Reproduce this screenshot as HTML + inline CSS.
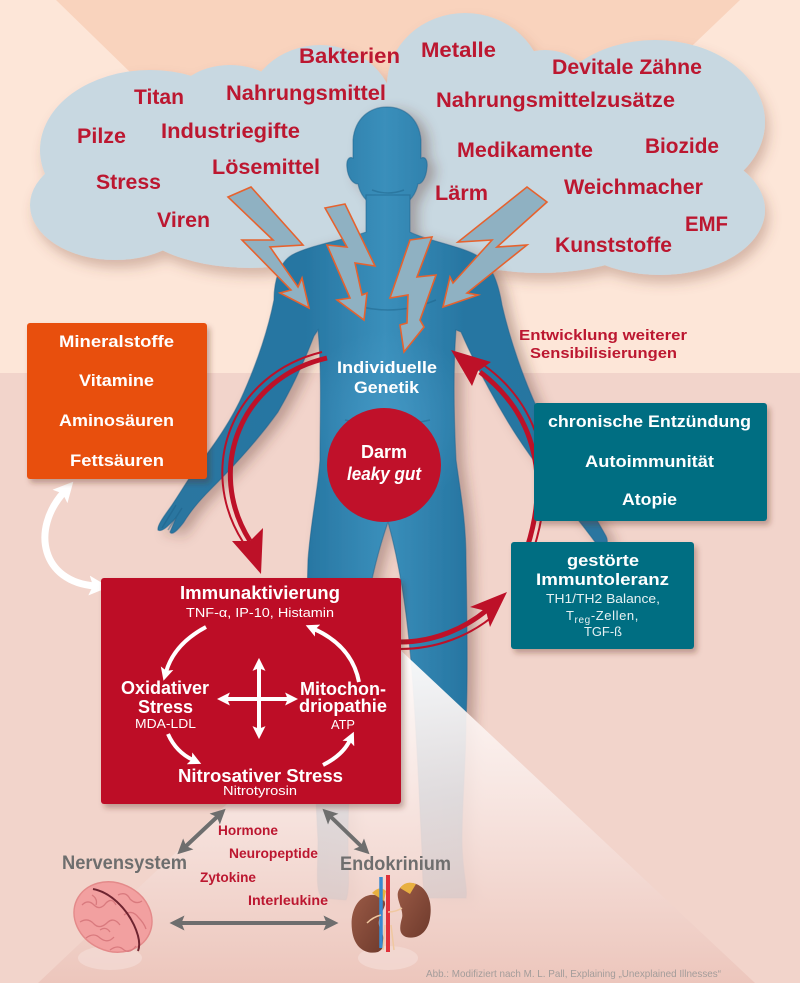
<!DOCTYPE html>
<html><head><meta charset="utf-8">
<style>html,body{margin:0;padding:0;background:#fde6d8;}svg{display:block}</style>
</head><body>
<svg width="800" height="983" viewBox="0 0 800 983" xmlns="http://www.w3.org/2000/svg" font-family="'Liberation Sans', sans-serif">
<defs>
<style>
.cw{font-weight:bold;fill:#bc1730;font-size:21px}
.wb{font-weight:bold;fill:#fff;font-size:17px}
.wn{fill:#fff;font-size:13px}
.sr{font-weight:bold;fill:#bc1730;font-size:13.5px}
.gy{font-weight:bold;fill:#6e6e6e;font-size:19.5px}
</style>
<linearGradient id="bodyg" gradientUnits="userSpaceOnUse" x1="150" y1="0" x2="620" y2="0">
<stop offset="0" stop-color="#2a76a0"/><stop offset="0.33" stop-color="#2776a2"/><stop offset="0.5" stop-color="#3a8fbb"/><stop offset="0.67" stop-color="#2776a2"/><stop offset="1" stop-color="#2a76a0"/>
</linearGradient>
<radialGradient id="torsog" gradientUnits="userSpaceOnUse" cx="388" cy="420" r="90">
<stop offset="0" stop-color="#4a9ecb" stop-opacity="0.55"/><stop offset="1" stop-color="#4a9ecb" stop-opacity="0"/>
</radialGradient>
<linearGradient id="coneg" gradientUnits="userSpaceOnUse" x1="0" y1="645" x2="0" y2="983">
<stop offset="0" stop-color="#ffffff" stop-opacity="0.96"/><stop offset="0.45" stop-color="#f8e8e4" stop-opacity="0.88"/><stop offset="1" stop-color="#ecc5bb" stop-opacity="0.92"/>
</linearGradient>
<linearGradient id="kid" x1="0" y1="0" x2="1" y2="1"><stop offset="0" stop-color="#9a5a46"/><stop offset="1" stop-color="#6e3a2c"/></linearGradient>
<filter id="sh" x="-20%" y="-20%" width="140%" height="140%"><feDropShadow dx="3" dy="4" stdDeviation="3" flood-color="#5a2a20" flood-opacity="0.35"/></filter>
<filter id="csh" x="-10%" y="-10%" width="120%" height="130%"><feDropShadow dx="4" dy="8" stdDeviation="6" flood-color="#7a4a3a" flood-opacity="0.3"/></filter>
<filter id="bsh" x="-20%" y="-10%" width="140%" height="130%"><feDropShadow dx="8" dy="4" stdDeviation="6" flood-color="#5a3028" flood-opacity="0.35"/></filter>
<marker id="mg" viewBox="0 0 10 10" refX="3" refY="5" markerWidth="15" markerHeight="15" markerUnits="userSpaceOnUse" orient="auto-start-reverse"><path d="M0,0 L10,5 L0,10 L2,5z" fill="#6e6e6e"/></marker>
<marker id="mw" viewBox="0 0 10 10" refX="3" refY="5" markerWidth="13" markerHeight="13" markerUnits="userSpaceOnUse" orient="auto-start-reverse"><path d="M0,0 L10,5 L0,10 L2,5z" fill="#fff"/></marker>
<marker id="mw2" viewBox="0 0 10 10" refX="3" refY="5" markerWidth="20" markerHeight="20" markerUnits="userSpaceOnUse" orient="auto-start-reverse"><path d="M0,0 L10,5 L0,10 L2,5z" fill="#fff"/></marker>
</defs>

<!-- background -->
<rect x="0" y="0" width="800" height="373" fill="#fde6d8"/>
<rect x="0" y="373" width="800" height="610" fill="#f2d4cb"/>
<polygon points="56,0 740,0 395,330" fill="#f9d3bd"/>

<!-- cloud -->
<g fill="#c8d8e1" filter="url(#csh)">
<ellipse cx="465" cy="85" rx="78" ry="72"/>
<ellipse cx="320" cy="115" rx="75" ry="70"/>
<ellipse cx="655" cy="122" rx="110" ry="82"/>
<ellipse cx="150" cy="150" rx="110" ry="80"/>
<ellipse cx="115" cy="205" rx="85" ry="55"/>
<ellipse cx="660" cy="210" rx="105" ry="65"/>
<ellipse cx="400" cy="190" rx="300" ry="85"/>
<ellipse cx="250" cy="212" rx="120" ry="56"/>
<ellipse cx="540" cy="215" rx="130" ry="58"/>
<ellipse cx="230" cy="110" rx="60" ry="45"/>
<ellipse cx="545" cy="95" rx="50" ry="45"/>
</g>

<!-- cloud words -->
<text class="cw" x="299" y="63" textLength="101" lengthAdjust="spacingAndGlyphs">Bakterien</text>
<text class="cw" x="421" y="57" textLength="75" lengthAdjust="spacingAndGlyphs">Metalle</text>
<text class="cw" x="552" y="74" textLength="150" lengthAdjust="spacingAndGlyphs">Devitale Zähne</text>
<text class="cw" x="134" y="104" textLength="50" lengthAdjust="spacingAndGlyphs">Titan</text>
<text class="cw" x="226" y="100" textLength="160" lengthAdjust="spacingAndGlyphs">Nahrungsmittel</text>
<text class="cw" x="436" y="107" textLength="239" lengthAdjust="spacingAndGlyphs">Nahrungsmittelzusätze</text>
<text class="cw" x="77" y="143" textLength="49" lengthAdjust="spacingAndGlyphs">Pilze</text>
<text class="cw" x="161" y="138" textLength="139" lengthAdjust="spacingAndGlyphs">Industriegifte</text>
<text class="cw" x="457" y="157" textLength="136" lengthAdjust="spacingAndGlyphs">Medikamente</text>
<text class="cw" x="645" y="153" textLength="74" lengthAdjust="spacingAndGlyphs">Biozide</text>
<text class="cw" x="96" y="189" textLength="65" lengthAdjust="spacingAndGlyphs">Stress</text>
<text class="cw" x="212" y="174" textLength="108" lengthAdjust="spacingAndGlyphs">Lösemittel</text>
<text class="cw" x="435" y="200" textLength="53" lengthAdjust="spacingAndGlyphs">Lärm</text>
<text class="cw" x="564" y="194" textLength="139" lengthAdjust="spacingAndGlyphs">Weichmacher</text>
<text class="cw" x="157" y="227" textLength="53" lengthAdjust="spacingAndGlyphs">Viren</text>
<text class="cw" x="685" y="231" textLength="43" lengthAdjust="spacingAndGlyphs">EMF</text>
<text class="cw" x="555" y="252" textLength="117" lengthAdjust="spacingAndGlyphs">Kunststoffe</text>

<!-- body -->
<g fill="url(#bodyg)" filter="url(#bsh)" stroke="#1d628a" stroke-opacity="0.5" stroke-width="1.2">
<path d="M387,107 C404,107 419,118 421,140 L421,158 C425,156 428,160 427,168 C426,178 422,184 418,184 C416,194 410,202 400,207 C393,211 383,211 376,207 C366,202 360,194 358,184 C353,184 348,178 347,168 C346,160 349,156 353,158 L353,140 C355,118 370,107 387,107 Z"/>
<path d="M366,195 L366,232 C345,240 310,245 292,255 C280,262 274,280 274,300 C268,330 258,360 244,392 C232,420 214,445 198,466 C190,476 182,490 172,505 C165,515 157,525 158,530 C162,533 170,524 176,518 L170,532 C172,536 178,530 184,522 C190,512 200,500 210,490 C232,468 258,440 278,412 C292,388 304,362 314,336 L318,330 C322,370 320,420 320,460 C318,490 311,520 308,560 C306,620 308,680 312,720 C314,760 316,800 318,840 C318,870 315,890 322,898 L346,900 C350,890 348,870 348,840 C348,790 352,740 356,700 C360,640 368,580 388,522 C404,580 410,640 414,700 C418,760 420,810 422,850 C423,880 422,892 428,898 L466,898 C468,888 462,870 462,840 C462,800 466,760 466,720 C468,680 467,620 466,560 C466,520 460,490 456,460 C454,420 453,370 456,330 L461,332 C474,362 490,392 508,422 C526,452 550,482 570,510 C580,522 590,535 598,546 C604,550 610,544 606,536 C598,522 590,508 582,495 C566,470 552,440 538,410 C524,380 510,340 502,305 C498,280 490,262 476,255 C460,246 425,240 410,232 L410,195 Z"/>
</g>
<path d="M318,330 C322,370 320,420 320,460 C318,490 311,520 308,560 L466,560 C466,520 460,490 456,460 C454,420 453,370 456,330 Z" fill="url(#torsog)"/>
<!-- subtle body details -->
<g fill="none" stroke="#1d5f86" stroke-opacity="0.45" stroke-width="1.5">
<path d="M372,190 Q388,196 404,190"/>
<path d="M340,300 Q388,320 436,300"/>
<path d="M345,420 Q388,430 430,420"/>
<path d="M162,528 L176,505 M168,530 L182,508"/>
</g>

<!-- light cone -->
<polygon points="395,645 755,983 38,983" fill="url(#coneg)"/>

<!-- lightning bolts -->
<g fill="#8fb1c2" stroke="#e6622e" stroke-width="1.6" stroke-linejoin="miter">
<polygon points="228,197 251,187 303,245 270,247 298,287 302,278 309,308 280,293 291,290 242,240 273,240"/>
<polygon points="325,208 345,204 375,266 355,263 362,295 367,293 364,320 337,300 350,298 327,245 347,247"/>
<polygon points="410,240 432,237 417,277 436,275 420,320 424,327 404,352 400,325 407,323 408,295 390,298"/>
<polygon points="527,187 547,202 497,247 527,245 467,293 478,295 443,307 450,277 453,283 492,240 458,242"/>
</g>

<!-- red arcs -->
<g fill="none" stroke="#bd1128">
<path d="M327,358 C240,378 205,470 250,541" stroke-width="5"/>
<path d="M322,352 C232,374 196,468 243,542" stroke-width="2"/>
<path d="M527,548 C552,470 530,410 480,372" stroke-width="5"/>
<path d="M534,548 C559,468 537,404 485,366" stroke-width="2"/>
<path d="M400,642 C435,642 465,628 487,610" stroke-width="5"/>
<path d="M400,649 C438,649 470,635 492,617" stroke-width="2"/>
</g>
<g fill="#bd1128">
<polygon points="232,541 250,541 263,528 261,574"/>
<polygon points="451,350 491,362 478,371 472,386"/>
<polygon points="507,592 470,607 486,611 490,627"/>
</g>

<!-- white left double arrow -->
<path d="M64,492 C30,530 42,582 95,586" fill="none" stroke="#fff" stroke-width="7" marker-start="url(#mw2)" marker-end="url(#mw2)"/>

<!-- orange box -->
<rect x="27" y="323" width="180" height="156" rx="3" fill="#e8500f" filter="url(#sh)"/>
<text class="wb" x="59" y="347" textLength="115" lengthAdjust="spacingAndGlyphs">Mineralstoffe</text>
<text class="wb" x="79" y="386" textLength="75" lengthAdjust="spacingAndGlyphs">Vitamine</text>
<text class="wb" x="59" y="426" textLength="115" lengthAdjust="spacingAndGlyphs">Aminosäuren</text>
<text class="wb" x="70" y="466" textLength="94" lengthAdjust="spacingAndGlyphs">Fettsäuren</text>

<!-- teal boxes -->
<rect x="534" y="403" width="233" height="118" rx="3" fill="#006e82" filter="url(#sh)"/>
<text class="wb" x="548" y="427" textLength="203" lengthAdjust="spacingAndGlyphs">chronische Entzündung</text>
<text class="wb" x="585" y="467" textLength="129" lengthAdjust="spacingAndGlyphs">Autoimmunität</text>
<text class="wb" x="622" y="505" textLength="55" lengthAdjust="spacingAndGlyphs">Atopie</text>

<rect x="511" y="542" width="183" height="107" rx="3" fill="#006e82" filter="url(#sh)"/>
<text class="wb" x="567" y="566" textLength="72" lengthAdjust="spacingAndGlyphs">gestörte</text>
<text class="wb" x="536" y="585" textLength="133" lengthAdjust="spacingAndGlyphs">Immuntoleranz</text>
<text class="wn" x="546" y="603" textLength="114" lengthAdjust="spacingAndGlyphs" fill-opacity="0.9">TH1/TH2 Balance,</text>
<text class="wn" x="566" y="620" fill-opacity="0.9" letter-spacing="0.6">T<tspan font-size="10" dy="3">reg</tspan><tspan dy="-3">-Zellen,</tspan></text>
<text class="wn" x="584" y="636" textLength="38" lengthAdjust="spacingAndGlyphs" fill-opacity="0.9">TGF-ß</text>

<!-- Entwicklung text -->
<text x="519" y="340" font-weight="bold" font-size="15" fill="#bc1730" textLength="168" lengthAdjust="spacingAndGlyphs">Entwicklung weiterer</text>
<text x="530" y="358" font-weight="bold" font-size="15" fill="#bc1730" textLength="147" lengthAdjust="spacingAndGlyphs">Sensibilisierungen</text>

<!-- Individuelle Genetik -->
<text class="wb" x="337" y="373" textLength="100" lengthAdjust="spacingAndGlyphs">Individuelle</text>
<text class="wb" x="354" y="393" textLength="65" lengthAdjust="spacingAndGlyphs">Genetik</text>

<!-- Darm circle -->
<circle cx="384" cy="465" r="57" fill="#c0112a"/>
<text x="361" y="458" font-weight="bold" font-size="18" fill="#fff" textLength="46" lengthAdjust="spacingAndGlyphs">Darm</text>
<text x="347" y="480" font-weight="bold" font-style="italic" font-size="18" fill="#fff" textLength="74" lengthAdjust="spacingAndGlyphs">leaky gut</text>

<!-- red box -->
<rect x="101" y="578" width="300" height="226" rx="3" fill="#bd1128" filter="url(#sh)"/>
<text x="180" y="599" font-weight="bold" font-size="18" fill="#fff" textLength="160" lengthAdjust="spacingAndGlyphs">Immunaktivierung</text>
<text class="wn" x="186" y="617" textLength="148" lengthAdjust="spacingAndGlyphs">TNF-α, IP-10, Histamin</text>
<text x="121" y="694" font-weight="bold" font-size="18" fill="#fff" textLength="88" lengthAdjust="spacingAndGlyphs">Oxidativer</text>
<text x="138" y="713" font-weight="bold" font-size="18" fill="#fff" textLength="55" lengthAdjust="spacingAndGlyphs">Stress</text>
<text class="wn" x="135" y="728" textLength="61" lengthAdjust="spacingAndGlyphs">MDA-LDL</text>
<text x="300" y="695" font-weight="bold" font-size="18" fill="#fff" textLength="86" lengthAdjust="spacingAndGlyphs">Mitochon-</text>
<text x="299" y="712" font-weight="bold" font-size="18" fill="#fff" textLength="88" lengthAdjust="spacingAndGlyphs">driopathie</text>
<text class="wn" x="331" y="729" textLength="24" lengthAdjust="spacingAndGlyphs">ATP</text>
<text x="178" y="782" font-weight="bold" font-size="18" fill="#fff" textLength="165" lengthAdjust="spacingAndGlyphs">Nitrosativer Stress</text>
<text class="wn" x="223" y="795" textLength="74" lengthAdjust="spacingAndGlyphs">Nitrotyrosin</text>

<!-- inner white arrows -->
<g fill="none" stroke="#fff" stroke-width="4">
<path d="M206,627 Q174,644 166,672" marker-end="url(#mw)"/>
<path d="M359,682 Q352,646 314,629" marker-end="url(#mw)"/>
<path d="M168,734 Q176,752 193,760" marker-end="url(#mw)"/>
<path d="M323,765 Q343,755 350,740" marker-end="url(#mw)"/>
<path d="M259,667 L259,730" marker-start="url(#mw)" marker-end="url(#mw)"/>
<path d="M226,699 L289,699" marker-start="url(#mw)" marker-end="url(#mw)"/>
</g>

<!-- gray arrows -->
<g fill="none" stroke="#6e6e6e" stroke-width="4">
<path d="M218,816 L185,847" marker-start="url(#mg)" marker-end="url(#mg)"/>
<path d="M330,816 L362,847" marker-start="url(#mg)" marker-end="url(#mg)"/>
<path d="M180,923 L328,923" marker-start="url(#mg)" marker-end="url(#mg)"/>
</g>

<!-- labels -->
<text class="gy" x="62" y="869" textLength="125" lengthAdjust="spacingAndGlyphs">Nervensystem</text>
<text class="gy" x="340" y="870" textLength="111" lengthAdjust="spacingAndGlyphs">Endokrinium</text>
<text class="sr" x="218" y="835" textLength="60" lengthAdjust="spacingAndGlyphs">Hormone</text>
<text class="sr" x="229" y="858" textLength="89" lengthAdjust="spacingAndGlyphs">Neuropeptide</text>
<text class="sr" x="200" y="882" textLength="56" lengthAdjust="spacingAndGlyphs">Zytokine</text>
<text class="sr" x="248" y="905" textLength="80" lengthAdjust="spacingAndGlyphs">Interleukine</text>

<!-- pedestals -->
<ellipse cx="110" cy="958" rx="32" ry="12" fill="#f3dcd6" opacity="0.7"/>
<ellipse cx="388" cy="958" rx="30" ry="12" fill="#f3dcd6" opacity="0.7"/>

<!-- brain -->
<g>
<ellipse cx="113" cy="917" rx="40" ry="34" transform="rotate(25 113 917)" fill="#f2a0a0" stroke="#e48a8a" stroke-width="1.5"/>
<g fill="none" stroke="#d97a7e" stroke-width="1.3">
<path d="M82,905 q6,-6 12,0 q6,6 12,-2 q6,-6 10,2"/>
<path d="M80,922 q8,-5 14,2 q6,6 14,-2 q6,-5 12,3"/>
<path d="M86,938 q8,-6 14,0 q8,6 14,-1"/>
<path d="M118,895 q8,-4 12,4 q6,6 12,2"/>
<path d="M124,915 q8,-6 14,2 q6,6 8,12"/>
<path d="M110,950 q8,-6 14,0 q6,4 12,-4"/>
<path d="M92,895 q6,4 4,10 M100,930 q6,-4 10,2"/>
</g>
<path d="M93,889 C110,892 126,908 134,925 C140,938 140,946 138,951" fill="none" stroke="#6e2430" stroke-width="2"/>
</g>

<!-- kidneys -->
<g>
<path d="M370,895 C355,898 350,915 352,930 C354,948 366,955 378,952 C387,948 384,936 380,928 C376,920 383,912 385,905 C386,898 378,894 370,895Z" fill="url(#kid)"/>
<path d="M412,883 C426,885 433,900 430,918 C428,932 418,940 406,937 C398,934 400,925 402,918 C404,910 396,900 398,892 C400,886 405,883 412,883Z" fill="url(#kid)"/>
<path d="M372,893 q8,-8 14,-2 l-2,10z" fill="#e8b040"/>
<path d="M400,888 q6,-8 16,-4 l-6,10z" fill="#e8b040"/>
<line x1="388" y1="875" x2="388" y2="952" stroke="#e0303a" stroke-width="4"/>
<line x1="381" y1="877" x2="381" y2="948" stroke="#3a8ad0" stroke-width="3.5"/>
<path d="M381,915 q-8,2 -14,8 M388,912 q8,0 14,-4 M385,925 l-2,25 M391,925 l3,25" fill="none" stroke="#f0c8a0" stroke-width="1.5"/>
</g>

<!-- credit -->
<text x="426" y="977" font-size="10.5" fill="#a39c9a" textLength="295" lengthAdjust="spacingAndGlyphs">Abb.: Modifiziert nach M. L. Pall, Explaining „Unexplained Illnesses“</text>
</svg>
</body></html>
